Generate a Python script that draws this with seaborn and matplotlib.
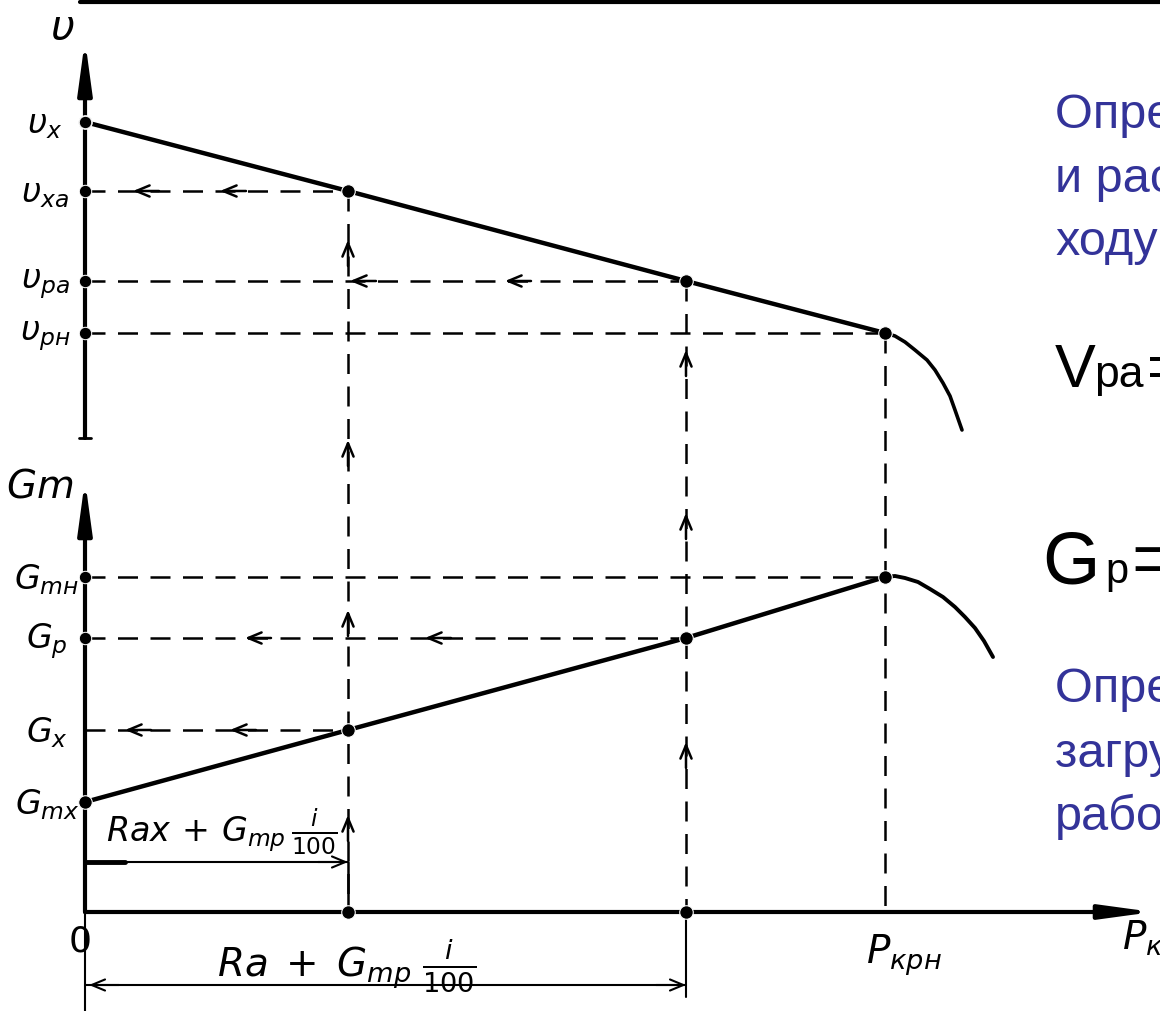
import matplotlib
matplotlib.use('Agg')  # no display in the sandbox
import matplotlib.pyplot as plt
import seaborn as sns
import pandas as pd

# values (P = drawbar pull, v = speed, G = fuel use)
p_marks = [0, 263, 601, 800]          # 0, P for Rax, P for Ra, P_крн
v_marks = [790, 721, 631, 579]        # v_x, v_xa, v_pa, v_pн
g_marks = [110, 182, 274, 335]        # G_mx, G_x, G_p, G_mн
v_tail_p = [800, 810, 820, 830, 842, 850, 858, 865, 870, 877]
v_tail = [579, 576, 570, 562, 552, 542, 529, 516, 502, 482]
g_tail_p = [800, 810, 820, 833, 845, 858, 870, 880, 890, 899, 908]
g_tail = [335, 336, 334, 330, 323, 315, 305, 295, 284, 271, 255]

v_labels = [r'$\upsilon_x$', r'$\upsilon_{xa}$', r'$\upsilon_{pa}$', r'$\upsilon_{рн}$']
g_labels = [r'$G_{mx}$', r'$G_x$', r'$G_p$', r'$G_{mн}$']

# arrow heads along the construction lines
v_arrow_x = [[48, 135], [265, 420]]        # on v_xa, v_pa lines
g_arrow_x = [[40, 145], [160, 340]]        # on G_x, G_p lines
up_arrow_y = [[672, 472, 302, 97], [562, 399, 170]]   # on the two verticals
dim_levels = [50, -73]

sns.set_style('white')
plt.rcParams['mathtext.fontset'] = 'dejavusans'
plt.rcParams['text.color'] = 'black'

fig = plt.figure(figsize=(11.6, 10.11), dpi=100)
ax = fig.add_axes([0, 0, 1, 1])
ax.set_xlim(-85, 1075)
ax.set_ylim(-99, 912)
ax.axis('off')

K = 'black'
dash = (0, (8, 5))


def chevron(x, y, dx, dy, lw=1.8):
    ax.annotate('', xy=(x, y), xytext=(x + dx, y + dy),
                arrowprops=dict(arrowstyle='->,head_length=0.6,head_width=0.25',
                                lw=lw, color=K, shrinkA=0, shrinkB=0,
                                mutation_scale=16))


def axis_arrow(x0, y0, x1, y1):
    ax.annotate('', xy=(x1, y1), xytext=(x0, y0),
                arrowprops=dict(arrowstyle='-|>,head_length=2.2,head_width=0.3',
                                lw=3, color=K, shrinkA=0, shrinkB=0,
                                mutation_scale=14))


# frame line at the top of the slide
ax.plot([-5, 1075], [910, 910], color=K, lw=3)

# axes
axis_arrow(0, 474, 0, 872)
ax.plot([-6, 6], [474, 474], color=K, lw=2)
axis_arrow(0, 0, 0, 432)
axis_arrow(0, 0, 1068, 0)
ax.plot([0, 0], [0, -99], color=K, lw=1.5)

# construction lines
for p, v in zip(p_marks[1:], v_marks[1:]):
    ax.plot([0, p], [v, v], color=K, lw=1.8, ls=dash)
    ax.plot([p, p], [v, 0], color=K, lw=1.8, ls=dash)
for p, g in zip(p_marks[1:], g_marks[1:]):
    ax.plot([0, p], [g, g], color=K, lw=1.8, ls=dash)
ax.plot([p_marks[1]] * 2, [dim_levels[0], 0], color=K, lw=1.8)
ax.plot([p_marks[2]] * 2, [0, -85], color=K, lw=1.5)

for xs, v in zip(v_arrow_x, v_marks[1:3]):
    for x in xs:
        chevron(x, v, 26, 0)
for xs, g in zip(g_arrow_x, g_marks[1:3]):
    for x in xs:
        chevron(x, g, 26, 0)
for ys, p in zip(up_arrow_y, p_marks[1:3]):
    for y in ys:
        chevron(p, y, 0, -26)

# dimension lines
ax.plot([0, p_marks[1]], [dim_levels[0]] * 2, color=K, lw=1.5)
ax.plot([0, 40], [dim_levels[0]] * 2, color=K, lw=3.5)
chevron(p_marks[1], dim_levels[0], -30, 0, lw=1.5)
ax.plot([0, p_marks[2]], [dim_levels[1]] * 2, color=K, lw=1.5)
chevron(p_marks[2], dim_levels[1], -30, 0, lw=1.5)
chevron(4, dim_levels[1], 30, 0, lw=1.5)

# characteristic curves
v_df = pd.DataFrame({'P': p_marks, 'v': v_marks})
g_df = pd.DataFrame({'P': p_marks, 'G': g_marks})
sns.lineplot(data=v_df, x='P', y='v', color=K, lw=3.2, sort=False,
             estimator=None, ax=ax)
sns.lineplot(data=g_df, x='P', y='G', color=K, lw=3.2, sort=False,
             estimator=None, ax=ax)
sns.lineplot(x=v_tail_p, y=v_tail, color=K, lw=2.6, sort=False,
             estimator=None, ax=ax)
sns.lineplot(x=g_tail_p, y=g_tail, color=K, lw=2.8, sort=False,
             estimator=None, ax=ax)

sns.scatterplot(data=v_df, x='P', y='v', color=K, s=95, ax=ax, zorder=5)
sns.scatterplot(data=g_df, x='P', y='G', color=K, s=95, ax=ax, zorder=5)
sns.scatterplot(x=[0] * 4, y=v_marks, color=K, s=80, ax=ax, zorder=5)
sns.scatterplot(x=[0, 0], y=g_marks[2:], color=K, s=80, ax=ax, zorder=5)
sns.scatterplot(x=p_marks[1:3], y=[0, 0], color=K, s=95, ax=ax, zorder=5)

# hand-drawn style labels
ax.text(-23, 884, r'$\upsilon$', fontsize=30, ha='center', va='center')
for lab, v in zip(v_labels, v_marks):
    ax.text(-40, v - 3, lab, fontsize=24, ha='center', va='center')
ax.text(-45, 425, r'$Gm$', fontsize=28, ha='center', va='center')
for lab, g in zip(g_labels, g_marks):
    ax.text(-38, g - 3, lab, fontsize=24, ha='center', va='center')
ax.text(-6, -30, r'$0$', fontsize=26, ha='center', va='center')
ax.text(137, 70, r'$Rax\,+\,G_{mp}\,\frac{i}{100}$', fontsize=24,
        ha='center', va='baseline')
ax.text(262, -64, r'$Ra\;+\;G_{mp}\;\frac{i}{100}$', fontsize=28,
        ha='center', va='baseline')
ax.text(781, -52, r'$P_{крн}$', fontsize=28, ha='left', va='baseline')
ax.text(1037, -38, r'$P_{кр}$', fontsize=28, ha='left', va='baseline')

# slide text on the right (cut by the slide edge)
blue = '#333399'
sans = ['Liberation Sans', 'DejaVu Sans']
upper_text = ['Определяем скорость', 'и расход топлива на холостом', 'ходу']
lower_text = ['Определяем степень', 'загрузки двигателя при', 'работе']
for line, y in zip(upper_text, [784, 720, 657]):
    ax.text(970, y, line, color=blue, fontsize=35, family=sans, va='baseline')
for line, y in zip(lower_text, [210, 145, 82]):
    ax.text(970, y, line, color=blue, fontsize=35, family=sans, va='baseline')

ax.text(970, 525, 'V', fontsize=44, family=sans, va='baseline')
ax.text(1009, 525, 'pa', fontsize=32, family=sans, va='baseline')
ax.text(1062, 525, '=', fontsize=44, family=sans, va='baseline')
ax.text(957, 329, 'G', fontsize=53, family=sans, va='baseline')
ax.text(1020, 329, 'p', fontsize=30, family=sans, va='baseline')
ax.text(1046, 329, '=', fontsize=53, family=sans, va='baseline')

fig.savefig('out.png', dpi=100)
